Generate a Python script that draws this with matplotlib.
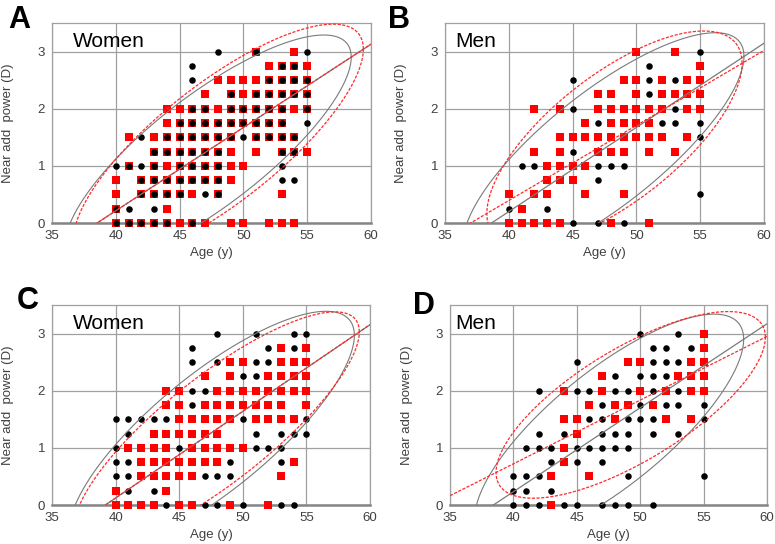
import numpy as np
import matplotlib
matplotlib.use("Agg")
import matplotlib.pyplot as plt

plt.rcParams['font.family'] = ['Liberation Sans', 'DejaVu Sans']

# add-power levels (rows), top to bottom
levels = [3.0, 2.75, 2.5, 2.25, 2.0, 1.75, 1.5, 1.25, 1.0, 0.75, 0.5, 0.25, 0.0]

# ages with a marker at each level (same order as levels)
A_red = [[51, 54], [52, 53, 54, 55], [48, 49, 50, 51, 52, 53, 54, 55],
         [47, 49, 50, 51, 52, 53, 54, 55], [44, 45, 46, 47, 48, 49, 50, 51, 52, 53, 54, 55],
         [44, 45, 46, 47, 48, 49, 50, 51, 52, 53], [41, 43, 44, 45, 46, 47, 48, 49, 51, 52, 53, 54],
         [43, 44, 45, 46, 47, 48, 49, 51, 53, 54, 55], [41, 43, 44, 45, 46, 47, 48, 49, 50],
         [40, 42, 43, 44, 45, 46, 47, 48, 49], [40, 42, 43, 44, 45, 46, 48, 53], [40, 44],
         [40, 41, 42, 43, 44, 45, 46, 47, 49, 50, 52, 53, 54]]
A_black = [[48, 51, 55], [46, 53, 54], [46, 52, 53, 54, 55], [49, 51, 52, 53, 54, 55],
           [46, 47, 49, 50, 51, 52, 53, 55], [45, 46, 47, 48, 49, 50, 51, 52, 53, 55],
           [42, 44, 45, 46, 47, 48, 49, 50, 51, 52, 53, 54], [43, 44, 45, 46, 47, 48, 53, 54],
           [40, 41, 42, 43, 45, 46, 47, 48, 53], [42, 43, 44, 45, 46, 47, 48, 53, 54],
           [42, 43, 44, 45, 47, 48], [40, 41, 43], [40, 41, 42, 43, 44, 46]]

B_red = [[50, 53], [55], [49, 50, 52, 54, 55], [47, 48, 50, 52, 53, 54, 55],
         [42, 44, 47, 48, 49, 50, 51, 52, 54, 55], [46, 48, 49, 50, 51],
         [44, 45, 46, 47, 48, 49, 50, 51, 52, 54], [42, 44, 47, 48, 49, 51, 53],
         [43, 44, 45, 46], [43, 44, 45], [40, 42, 43, 46, 49], [41],
         [40, 41, 42, 43, 44, 48, 51]]
B_black = [[55], [51], [45, 51, 53], [51], [45, 53], [47, 52, 53, 55], [55], [45],
           [41, 42, 47, 48, 49], [47], [55], [40, 43], [45, 47, 49]]

C_red = [[], [53, 55], [49, 50, 53, 54, 55], [47, 49, 52, 53, 54, 55],
         [44, 45, 48, 49, 50, 51, 52, 53, 54, 55], [44, 45, 47, 48, 49, 50, 51, 52, 53, 55],
         [45, 46, 47, 48, 49, 51, 52, 53, 54], [43, 44, 45, 46, 47, 48],
         [41, 42, 43, 44, 46, 47, 48, 49, 50], [42, 43, 44, 45, 46, 47, 48, 54],
         [42, 43, 44, 45, 46, 53], [40, 44], [40, 41, 42, 43, 45, 46, 49, 52]]
C_black = [[48, 51, 54, 55], [46, 52, 54], [46, 48, 51, 52], [50, 51], [46, 47], [46],
           [40, 41, 42, 43, 44, 50, 55], [41, 51, 53, 54, 55], [40, 45, 51, 52, 53],
           [40, 41, 49, 53], [40, 41, 47, 48, 49], [41, 43], [44, 47, 48, 50, 53, 54]]

D_red = [[55], [55], [49, 50, 54, 55], [47, 53, 54, 55], [44, 47, 50, 52, 54, 55],
         [46, 48, 49, 51], [44, 45, 48, 52, 54], [45], [44], [44], [43, 46], [], [43]]
D_black = [[50, 53], [51, 52, 54], [45, 51, 52, 53], [48, 50, 51, 52],
           [42, 45, 46, 48, 49, 51, 53], [47, 50, 52, 53, 55], [46, 47, 49, 50, 51, 55],
           [42, 44, 47, 48, 49, 51, 53], [41, 42, 43, 45, 46, 47, 48, 49], [43, 45, 47],
           [40, 41, 42, 49, 55], [40, 41, 43], [40, 41, 42, 44, 45, 47, 48, 49, 51]]

# ellipse summaries: mean age, mean add, age half-extent, add half-extent, correlation
A_gray_ell = [47.25, 1.27, 11.2, 2.02, 0.808]
A_red_ell = [48.05, 1.388, 11.35, 2.092, 0.791]
B_gray_ell = [47.43, 1.294, 11.0, 2.036, 0.796]
B_red_ell = [48.28, 1.481, 10.0, 1.879, 0.699]
C_gray_ell = [47.57, 1.27, 11.2, 2.12, 0.801]
C_red_ell = [47.96, 1.33, 11.2, 2.05, 0.829]
D_gray_ell = [47.56, 1.343, 10.6, 1.997, 0.780]
D_red_ell = [49.25, 1.752, 10.62, 1.633, 0.725]

panel_letters = ['A', 'B', 'C', 'D']
panel_titles = ['Women', 'Men', 'Women', 'Men']
x_ticks = [35, 40, 45, 50, 55, 60]
y_ticks = [0, 1, 2, 3]

W, H = 775, 544
fig = plt.figure(figsize=(W / 100, H / 100), dpi=100)

def px_axes(left, top, right, bottom):
    return fig.add_axes([left / W, 1 - bottom / H, (right - left) / W, (bottom - top) / H])

axes_px = [(52, 23, 371, 223), (445, 23, 764, 223), (52, 305, 370, 505), (450, 305, 767, 505)]
letter_px = [(8, 28), (388, 28), (17, 309), (413, 314)]

def expand(rows):
    xs, ys = [], []
    for lev, ages in zip(levels, rows):
        for a in ages:
            xs.append(a)
            ys.append(lev)
    return np.array(xs), np.array(ys)

def ellipse(p):
    cx, cy, a, b, r = p
    t = np.linspace(0, 2 * np.pi, 500)
    return cx + a * np.cos(t), cy + b * (r * np.cos(t) + np.sqrt(1 - r * r) * np.sin(t))

def regline(p):
    cx, cy, a, b, r = p
    m = r * b / a
    xx = np.array([35.0, 60.0])
    return xx, cy + m * (xx - cx)

data = [(A_red, A_black, A_gray_ell, A_red_ell, True),
        (B_red, B_black, B_gray_ell, B_red_ell, True),
        (C_red, C_black, C_gray_ell, C_red_ell, False),
        (D_red, D_black, D_gray_ell, D_red_ell, False)]

gray = '#7a7a7a'
redc = '#ff2a2a'
for i, (rr, bb, ge, re_, black_top) in enumerate(data):
    ax = px_axes(*axes_px[i])
    ax.set_xlim(35, 60)
    ax.set_ylim(0, 3.5)
    ax.set_xticks(x_ticks)
    ax.set_yticks(y_ticks)
    ax.tick_params(length=0, pad=5, labelsize=9.5, labelcolor='#404040')
    ax.grid(True, color='#a0a0a0', lw=0.9, zorder=0)
    ax.set_axisbelow(True)
    for s in ['top', 'right', 'left']:
        ax.spines[s].set_color('#a0a0a0')
        ax.spines[s].set_linewidth(0.9)
    ax.spines['bottom'].set_color('#858585')
    ax.spines['bottom'].set_linewidth(1.8)

    ex, ey = ellipse(ge)
    ax.plot(ex, ey, color=gray, lw=0.8, zorder=5)
    lx, ly = regline(ge)
    ax.plot(lx, ly, color=gray, lw=0.9, zorder=5)
    ex, ey = ellipse(re_)
    ax.plot(ex, ey, color=redc, lw=0.9, ls=(0, (2.5, 1.2)), zorder=6)
    lx, ly = regline(re_)
    ax.plot(lx, ly, color=redc, lw=0.9, ls=(0, (2.5, 1.2)), zorder=6)

    rx, ry = expand(rr)
    bx, by = expand(bb)
    zr, zb = (3, 4) if black_top else (4, 3)
    ax.plot(rx, ry, ls='none', marker='s', ms=5.3, mew=0, color='#ff0000', zorder=zr, clip_on=False)
    ax.plot(bx, by, ls='none', marker='o', ms=4.7, mew=0, color='#000000', zorder=zb, clip_on=False)

    ax.set_xlabel('Age (y)', fontsize=9.5, color='#404040')
    ax.xaxis.set_label_coords(0.5, -0.12)
    ax.xaxis.label.set_va('top')
    ax.set_ylabel('Near add  power (D)', fontsize=9.5, color='#404040')
    ax.yaxis.set_label_coords(-0.118, 0.5)

    tx = 0.066 if panel_titles[i] == 'Women' else (0.031 if i == 1 else 0.016)
    ax.text(tx, 0.8815, panel_titles[i], transform=ax.transAxes, fontsize=15,
            color='#000000', va='baseline', ha='left', zorder=10)

    lxp, lyp = letter_px[i]
    fig.text(lxp / W, 1 - lyp / H, panel_letters[i], fontsize=22, fontweight='bold',
             va='baseline', ha='left')

fig.savefig('out.png', dpi=100)
